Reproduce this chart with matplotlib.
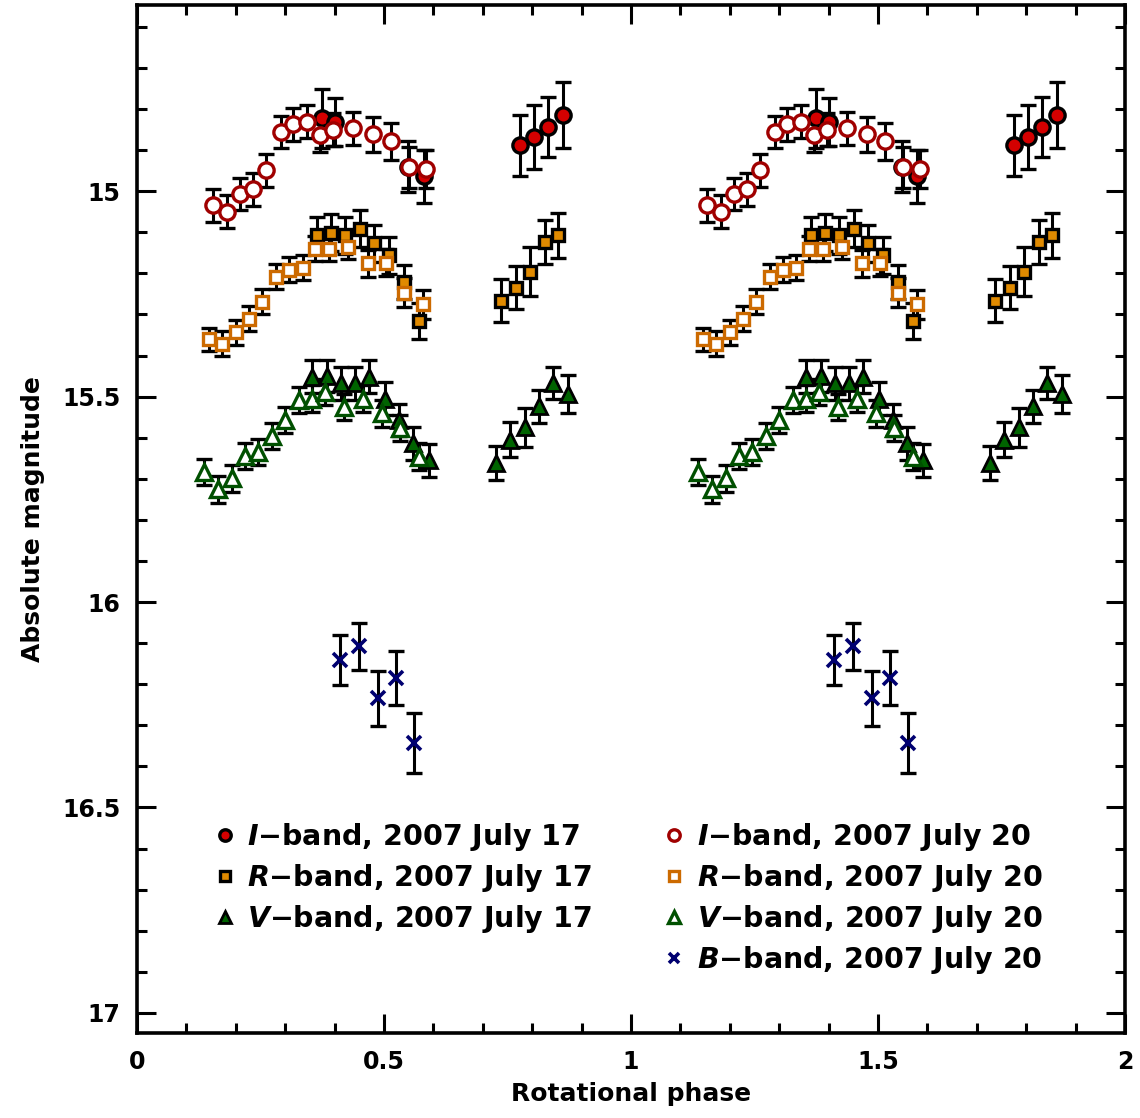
import numpy as np
import matplotlib
matplotlib.use("Agg")
import matplotlib.pyplot as plt
from matplotlib.ticker import MultipleLocator, FuncFormatter

plt.rcParams['font.family'] = ['DejaVu Sans']
plt.rcParams['font.weight'] = 'bold'
plt.rcParams['mathtext.fontset'] = 'custom'
plt.rcParams['mathtext.it'] = 'DejaVu Sans:italic:bold'
plt.rcParams['mathtext.rm'] = 'DejaVu Sans:bold'

# I-band, 2007 July 17 (filled)
i17_phase = [0.374, 0.401, 0.549, 0.580, 0.775, 0.804, 0.833, 0.863]
i17_mag = [14.823, 14.832, 14.940, 14.964, 14.888, 14.868, 14.844, 14.815]
i17_err = [0.072, 0.059, 0.061, 0.065, 0.074, 0.078, 0.074, 0.080]

# I-band, 2007 July 20 (open)
i20_phase = [0.154, 0.182, 0.208, 0.235, 0.261, 0.291, 0.316, 0.345, 0.370,
             0.397, 0.437, 0.477, 0.514, 0.551, 0.586]
i20_mag = [15.034, 15.050, 15.007, 14.995, 14.949, 14.856, 14.837, 14.831,
           14.864, 14.850, 14.847, 14.862, 14.878, 14.942, 14.946]
i20_err = [0.040, 0.040, 0.040, 0.040, 0.040, 0.040, 0.040, 0.040, 0.040,
           0.040, 0.040, 0.042, 0.045, 0.050, 0.047]

# R-band, 2007 July 17 (filled)
r17_phase = [0.364, 0.393, 0.422, 0.451, 0.480, 0.511, 0.541, 0.571,
             0.737, 0.767, 0.796, 0.825, 0.853]
r17_mag = [15.107, 15.101, 15.107, 15.091, 15.127, 15.156, 15.221, 15.316,
           15.267, 15.235, 15.196, 15.123, 15.107]
r17_err = [0.045, 0.045, 0.045, 0.045, 0.045, 0.045, 0.042, 0.043,
           0.052, 0.053, 0.059, 0.054, 0.055]

# R-band, 2007 July 20 (open)
r20_phase = [0.146, 0.173, 0.200, 0.227, 0.254, 0.281, 0.308, 0.335, 0.360,
             0.389, 0.428, 0.468, 0.504, 0.540, 0.578]
r20_mag = [15.361, 15.371, 15.344, 15.310, 15.269, 15.208, 15.191, 15.186,
           15.140, 15.140, 15.135, 15.176, 15.174, 15.247, 15.275]
r20_err = [0.028, 0.030, 0.030, 0.030, 0.030, 0.030, 0.030, 0.030, 0.030,
           0.030, 0.030, 0.032, 0.032, 0.035, 0.035]

# V-band, 2007 July 17 (filled)
v17_phase = [0.354, 0.384, 0.412, 0.441, 0.470, 0.502, 0.531, 0.559, 0.591,
             0.727, 0.756, 0.785, 0.814, 0.843, 0.873]
v17_mag = [15.452, 15.450, 15.468, 15.468, 15.452, 15.505, 15.557, 15.614,
           15.655, 15.662, 15.605, 15.575, 15.524, 15.467, 15.494]
v17_err = [0.040, 0.040, 0.040, 0.040, 0.040, 0.040, 0.040, 0.040, 0.040,
           0.041, 0.043, 0.047, 0.040, 0.040, 0.047]

# V-band, 2007 July 20 (open)
v20_phase = [0.136, 0.163, 0.192, 0.219, 0.244, 0.273, 0.300, 0.327, 0.354,
             0.381, 0.419, 0.458, 0.495, 0.532, 0.570]
v20_mag = [15.684, 15.726, 15.699, 15.645, 15.634, 15.596, 15.557, 15.509,
           15.505, 15.488, 15.525, 15.505, 15.541, 15.577, 15.646]
v20_err = [0.032, 0.032, 0.032, 0.032, 0.032, 0.032, 0.032, 0.032, 0.032,
           0.032, 0.032, 0.032, 0.032, 0.032, 0.032]

# B-band, 2007 July 20
b20_phase = [0.410, 0.449, 0.487, 0.524, 0.561]
b20_mag = [16.141, 16.108, 16.234, 16.185, 16.343]
b20_err = [0.061, 0.058, 0.067, 0.066, 0.072]

red_fill = '#d40000'
red_open = '#a00000'
org_fill = '#e08a00'
org_open = '#cc6a00'
grn_fill = '#006400'
grn_open = '#005000'
blue = '#000070'

series = [
    (i17_phase, i17_mag, i17_err, dict(marker='o', ms=11, mfc=red_fill, mec='black', mew=2.4),
     r'$\mathit{I}$$-$band, 2007 July 17', 0),
    (i20_phase, i20_mag, i20_err, dict(marker='o', ms=11, mfc='white', mec=red_open, mew=2.4),
     r'$\mathit{I}$$-$band, 2007 July 20', 1),
    (r17_phase, r17_mag, r17_err, dict(marker='s', ms=9, mfc=org_fill, mec='black', mew=2.4),
     r'$\mathit{R}$$-$band, 2007 July 17', 0),
    (r20_phase, r20_mag, r20_err, dict(marker='s', ms=9, mfc='white', mec=org_open, mew=2.4),
     r'$\mathit{R}$$-$band, 2007 July 20', 1),
    (v17_phase, v17_mag, v17_err, dict(marker='^', ms=11, mfc=grn_fill, mec='black', mew=2.0),
     r'$\mathit{V}$$-$band, 2007 July 17', 0),
    (v20_phase, v20_mag, v20_err, dict(marker='^', ms=11, mfc='white', mec=grn_open, mew=2.4),
     r'$\mathit{V}$$-$band, 2007 July 20', 1),
    (b20_phase, b20_mag, b20_err, dict(marker='x', ms=10, mfc=blue, mec=blue, mew=2.6),
     r'$\mathit{B}$$-$band, 2007 July 20', 1),
]

fig = plt.figure(figsize=(11.4, 11.18), dpi=100)
ax = fig.add_axes([0.1202, 0.076, 0.8666, 0.9195])

handles = [[], []]
labels = [[], []]
for ph, mag, err, style, lab, col in series:
    ph = np.array(ph)
    for off in [0, 1]:
        ax.errorbar(ph + off, mag, yerr=err, fmt='none', ecolor='black',
                    elinewidth=2.2, capsize=6, capthick=2.4, zorder=2)
        h, = ax.plot(ph + off, mag, ls='none', zorder=3, **style)
    handles[col].append(h)
    labels[col].append(lab)

ax.set_xlim(0, 2)
ax.set_ylim(17.049, 14.547)

ax.xaxis.set_major_locator(MultipleLocator(0.5))
ax.xaxis.set_minor_locator(MultipleLocator(0.1))
ax.yaxis.set_major_locator(MultipleLocator(0.5))
ax.yaxis.set_minor_locator(MultipleLocator(0.1))
fmt = FuncFormatter(lambda v, p: ('%g' % v))
ax.xaxis.set_major_formatter(fmt)
ax.yaxis.set_major_formatter(fmt)

ax.tick_params(which='both', direction='in', top=True, right=True, width=2.2,
               labelsize=17, pad=12)
ax.tick_params(which='major', length=14)
ax.tick_params(which='minor', length=7)
for s in ax.spines.values():
    s.set_linewidth(2.6)

ax.set_xlabel('Rotational phase', fontsize=18, fontweight='bold', labelpad=6)
ax.set_ylabel('Absolute magnitude', fontsize=18, fontweight='bold', labelpad=12)

leg_kw = dict(frameon=False, fontsize=20.5, handlelength=0.7, handletextpad=0.45,
              labelspacing=0.31, borderaxespad=0, loc='upper left',
              markerscale=0.75)
leg1 = ax.legend(handles[0], labels[0], bbox_to_anchor=(0.067, 0.217), **leg_kw)
ax.add_artist(leg1)
ax.legend(handles[1], labels[1], bbox_to_anchor=(0.522, 0.217), **leg_kw)

fig.savefig('out.png', dpi=100)
